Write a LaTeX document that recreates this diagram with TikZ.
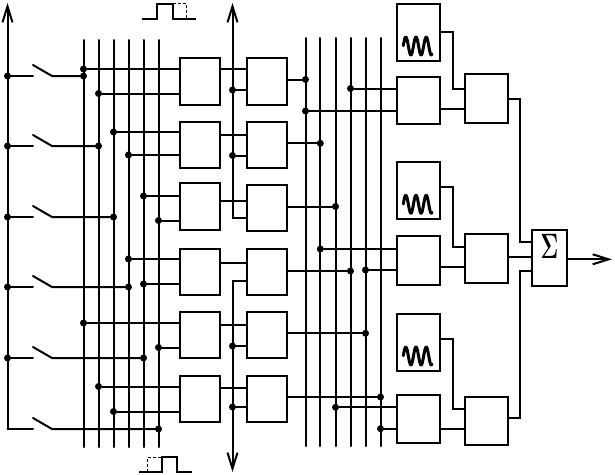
\documentclass[tikz,border=0pt]{standalone}
\usepackage{amsmath, amssymb}
\usepackage{graphicx}
\usetikzlibrary{arrows.meta, positioning, calc}

\tikzset{
  wire/.style={line width=2pt, line cap=round},
  blockbox/.style={draw, line width=2pt, inner sep=0pt, outer sep=0pt, minimum width=40pt, minimum height=46pt},
  mixbox/.style={blockbox, minimum width=43pt, minimum height=48pt},
  oscbox/.style={blockbox, minimum width=43pt, minimum height=57pt},
  dotnode/.style={circle, fill=black, inner sep=0pt, outer sep=0pt, minimum size=7pt},
  wave/.style={line width=3pt, line cap=round, line join=round},
  pulse/.style={line width=2pt, line join=miter},
  dashpulse/.style={line width=.9pt, densely dashed}
}

\begin{document}
\begin{tikzpicture}[x=1pt, y=-1pt, >={Straight Barb[length=16pt, width=10pt, line width=2pt]}]
	\useasboundingbox (0,0) rectangle (615,474);

	% First and second column of blocks
	\node[blockbox, minimum height=46.5pt] (b1) at (199.75,81.25) {};
	\node[blockbox, minimum height=45.5pt] (b2) at (199.75,144.75) {};
	\node[blockbox, minimum height=46.5pt] (b3) at (199.75,206.25) {};
	\node[blockbox] (b4) at (199.75,272) {};
	\node[blockbox] (b5) at (199.75,335) {};
	\node[blockbox] (b6) at (199.75,399) {};
	\node[blockbox, minimum height=46.5pt] (c1) at (267,81.25) {};
	\node[blockbox, minimum height=45.5pt] (c2) at (267,144.75) {};
	\node[blockbox] (c3) at (267,208) {};
	\node[blockbox] (c4) at (267,272) {};
	\node[blockbox] (c5) at (267,335) {};
	\node[blockbox] (c6) at (267,399) {};

	% Oscillators, mixers and the summing block
	\node[oscbox] (o1) at (418.8,32.5) {};
	\node[oscbox] (o2) at (418.8,190.75) {};
	\node[oscbox] (o3) at (418.8,342.5) {};
	\node[mixbox, minimum height=47pt] (d1) at (418.7,100) {};
	\node[mixbox, minimum height=49pt] (d2) at (418.7,260.2) {};
	\node[mixbox] (d3) at (418.7,419) {};
	\node[mixbox, minimum height=48.5pt] (e1) at (486.5,98.25) {};
	\node[mixbox, minimum height=48.5pt] (e2) at (486.5,258.5) {};
	\node[mixbox] (e3) at (486.5,421.3) {};
	\node[blockbox, minimum width=34.4pt, minimum height=55.7pt] (sum) at (549.5,257.85) {};
	\node[inner sep=0pt] (sigma) at (549.5,246.5) {\scalebox{1.05}[1.7]{\huge$\boldsymbol{\Sigma}$}};

	% Bus lines
	\foreach \n/\x in {1/83.5,2/98.5,3/113.5,4/128.5,5/143.5,6/158.5} {
		\coordinate (p\n) at (\x,40);
		\coordinate (q\n) at (\x,447);
		\draw[wire] (p\n) -- (q\n);
	}
	\foreach \n/\x in {1/305.5,2/320.3,3/335.5,4/350.5,5/365.5,6/380.5} {
		\coordinate (r\n) at (\x,38);
		\coordinate (s\n) at (\x,446);
		\draw[wire] (r\n) -- (s\n);
	}

	% Left line and its switches
	\coordinate (ltop) at (7.5,3);
	\coordinate (t6) at (7.5,429);
	\draw[wire, ->] (t6) -- (ltop);
	\foreach \n/\y in {1/76,2/146,3/217,4/287,5/358} {
		\node[dotnode] (t\n) at (7.5,\y) {};
	}
	\foreach \n/\y/\k in {1/76/1,2/146/2,3/217/3,4/287/4,5/358/5,6/429/6} {
		\coordinate (sa\n) at (33,\y);
		\coordinate (sb\n) at (52,\y);
		\coordinate (sc\n) at (33,\y-11);
		\node[dotnode] (u\n) at (p\k |- sb\n) {};
		\draw[wire] (t\n) -- (sa\n);
		\draw[wire] (sc\n) -- (sb\n) -- (u\n);
	}

	% Bus to first column
	\foreach \n/\k/\y/\m in {a/1/69/b1,f/2/93.5/b1,g/3/132/b2,h/4/155/b2,i/5/196/b3,j/6/220.5/b3,k/4/259/b4,l/5/284/b4,m/1/323/b5,n/6/347.5/b5,o/2/386.5/b6,q/3/411.5/b6} {
		\node[dotnode] (in\n) at (p\k |- 0,\y) {};
		\draw[wire] (in\n) -- (in\n -| \m.west);
	}

	% First column to second column
	\foreach \n/\y in {1/69,2/134.5,3/201,4/263,5/325,6/388} {
		\draw[wire] (b\n.east |- 0,\y) -- (c\n.west |- 0,\y);
	}

	% Middle line going up and down
	\coordinate (mtop) at (232.5,3);
	\coordinate (mup) at (232.5,218);
	\coordinate (mdown) at (232.5,280.7);
	\coordinate (mbot) at (232.5,472);
	\draw[wire, ->] (mup -| c3.west) -- (mup) -- (mtop);
	\draw[wire, ->] (mdown -| c4.west) -- (mdown) -- (mbot);
	\foreach \n/\y/\m in {1/90/c1,2/155.5/c2,3/346/c5,4/407/c6} {
		\node[dotnode] (mid\n) at (232.5,\y) {};
		\draw[wire] (mid\n) -- (mid\n -| \m.west);
	}

	% Second column to second bus
	\foreach \n/\y in {1/79.5,2/143.3,3/206.5,4/271,5/333.3,6/397} {
		\node[dotnode] (v\n) at (r\n |- 0,\y) {};
		\draw[wire] (c\n.east |- v\n) -- (v\n);
	}

	% Second bus to mixers
	\foreach \n/\k/\y/\m in {1/4/88.5/d1,2/1/111/d1,3/2/249/d2,4/5/270/d2,5/3/407.3/d3,6/6/428.7/d3} {
		\node[dotnode] (w\n) at (r\k |- 0,\y) {};
		\draw[wire] (w\n) -- (w\n -| \m.west);
	}

	% Oscillators and mixers to the second mixers
	\foreach \n/\ya/\yb/\yc in {1/32/88.5/109,2/187/247.3/267.3,3/339/409.3/429.3} {
		\coordinate (oa\n) at (452.7,\ya);
		\coordinate (ob\n) at (452.7,\yb);
		\draw[wire] (o\n.east |- oa\n) -- (oa\n) -- (ob\n) -- (ob\n -| e\n.west);
		\draw[wire] (d\n.east |- 0,\yc) -- (e\n.west |- 0,\yc);
	}

	% Into the summing block
	\coordinate (ga) at (520.3,99);
	\coordinate (gb) at (520.3,242.3);
	\coordinate (gc) at (520.3,418.3);
	\coordinate (gd) at (520.3,271.3);
	\coordinate (out) at (612,259.3);
	\draw[wire] (e1.east |- ga) -- (ga) -- (gb) -- (gb -| sum.west);
	\draw[wire] (e2.east |- 0,257.3) -- (sum.west |- 0,257.3);
	\draw[wire] (e3.east |- gc) -- (gc) -- (gd) -- (gd -| sum.west);
	\draw[wire, ->] (sum.east |- out) -- (out);

	% Waves in the oscillators
	\foreach \n in {o1,o2,o3} {
		\draw[wave, shift={(\n.center)}] plot[domain=-15.5:13.2, samples=70, smooth] (\x,{13.5-9*cos(360*(\x+13)/10.2)});
	}

	% Pulses
	\draw[pulse] (142,18.5) -- (157,18.5) -- (157,4) -- (172.5,4) -- (172.5,18.5) -- (196,18.5);
	\draw[dashpulse] (172.5,3.5) -- (186.5,3.5) -- (186.5,18.5);
	\draw[pulse] (139,471.5) -- (161.5,471.5) -- (161.5,456.5) -- (177,456.5) -- (177,471.5) -- (192,471.5);
	\draw[dashpulse] (147.5,471.5) -- (147.5,457) -- (161.5,457);
\end{tikzpicture}
\end{document}
